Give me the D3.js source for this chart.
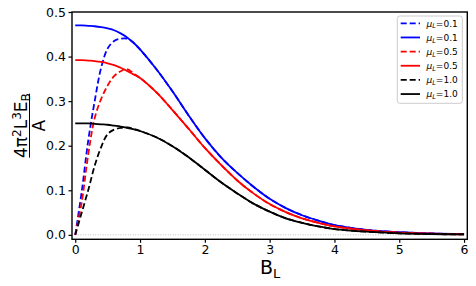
<!DOCTYPE html>
<html>
<head>
<meta charset="utf-8">
<script src="https://cdn.jsdelivr.net/npm/d3@7"></script>
<style>
  body { margin: 0; background: #fff; }
  svg { display: block; font-family: "DejaVu Sans", sans-serif; }
</style>
</head>
<body>
<div id="chart"></div>
<script>
// B_L sample points
var bl = [0, 0.1, 0.2, 0.3, 0.4, 0.5, 0.6, 0.7, 0.8, 0.9, 1.0, 1.25, 1.5, 1.75, 2.0, 2.25, 2.5, 2.75, 3.0, 3.25, 3.5, 3.75, 4.0, 4.5, 5.0, 5.5, 6.0]

var blueSolid  = [0.470, 0.470, 0.469, 0.468, 0.466, 0.463, 0.459, 0.452, 0.443, 0.431, 0.416, 0.372, 0.322, 0.268, 0.217, 0.174, 0.139, 0.108, 0.081, 0.060, 0.044, 0.032, 0.022, 0.011, 0.006, 0.003, 0.0015]
var blueDashed = [0.000, 0.097, 0.211, 0.300, 0.375, 0.418, 0.435, 0.440, 0.440, 0.431, 0.416, 0.372, 0.322, 0.268, 0.217, 0.174, 0.139, 0.108, 0.081, 0.060, 0.044, 0.032, 0.022, 0.011, 0.006, 0.003, 0.0015]
var redSolid   = [0.392, 0.392, 0.391, 0.390, 0.388, 0.385, 0.381, 0.375, 0.368, 0.360, 0.352, 0.320, 0.280, 0.238, 0.195, 0.157, 0.122, 0.093, 0.069, 0.051, 0.037, 0.027, 0.019, 0.010, 0.005, 0.0025, 0.0012]
var redDashed  = [0.000, 0.073, 0.180, 0.262, 0.305, 0.335, 0.356, 0.367, 0.372, 0.362, 0.352, 0.320, 0.280, 0.238, 0.195, 0.157, 0.122, 0.093, 0.069, 0.051, 0.037, 0.027, 0.019, 0.010, 0.005, 0.0025, 0.0012]
var blackSolid = [0.250, 0.250, 0.250, 0.249, 0.248, 0.247, 0.245, 0.243, 0.240, 0.237, 0.233, 0.219, 0.199, 0.174, 0.146, 0.118, 0.093, 0.070, 0.052, 0.037, 0.027, 0.019, 0.013, 0.007, 0.0035, 0.0018, 0.0009]
var blackDashed= [0.000, 0.050, 0.100, 0.155, 0.197, 0.226, 0.236, 0.240, 0.241, 0.238, 0.233, 0.219, 0.199, 0.174, 0.146, 0.118, 0.093, 0.070, 0.052, 0.037, 0.027, 0.019, 0.013, 0.007, 0.0035, 0.0018, 0.0009]

var xTicks = [0, 1, 2, 3, 4, 5, 6]
var yTicks = [0.0, 0.1, 0.2, 0.3, 0.4, 0.5]

var seriesNames = ["0.1", "0.1", "0.5", "0.5", "1.0", "1.0"]
var seriesColors = ["blue", "blue", "red", "red", "black", "black"]
var seriesDashed = [true, false, true, false, true, false]
var seriesValues = [blueDashed, blueSolid, redDashed, redSolid, blackDashed, blackSolid]

var W = 476, H = 286
var margin = {top: 12, right: 8.7, bottom: 46.7, left: 72}

var svg = d3.select("#chart").append("svg")
  .attr("width", W)
  .attr("height", H)

var x = d3.scaleLinear().domain([-0.05, 6.05]).range([margin.left, W - margin.right])
var y = d3.scaleLinear().domain([-0.01, 0.5]).range([H - margin.bottom, margin.top])

// dotted zero line
svg.append("line")
  .attr("x1", x(0)).attr("x2", x(6))
  .attr("y1", y(0)).attr("y2", y(0))
  .attr("stroke", "#c0c0c0")
  .attr("stroke-width", 1)
  .attr("stroke-dasharray", "1,1.5")

var line = d3.line()
  .x(function(d) { return x(d[0]) })
  .y(function(d) { return y(d[1]) })
  .curve(d3.curveCatmullRom.alpha(0.5))

seriesValues.forEach(function(vals, i) {
  svg.append("path")
    .datum(bl.map(function(b, j) { return [b, vals[j]] }))
    .attr("fill", "none")
    .attr("stroke", seriesColors[i])
    .attr("stroke-width", 1.8)
    .attr("stroke-dasharray", seriesDashed[i] ? "6,3" : null)
    .attr("d", line)
})

// axes
var gx = svg.append("g")
  .attr("transform", "translate(0," + (H - margin.bottom) + ")")
  .call(d3.axisBottom(x).tickValues(xTicks).tickFormat(d3.format("d")).tickSize(3.5).tickPadding(2.5))
var gy = svg.append("g")
  .attr("transform", "translate(" + margin.left + ",0)")
  .call(d3.axisLeft(y).tickValues(yTicks).tickFormat(d3.format(".1f")).tickSize(3.5).tickPadding(2.5))

;[gx, gy].forEach(function(g) {
  g.select(".domain").remove()
  g.selectAll(".tick line").attr("stroke", "#000").attr("stroke-width", 1.2)
  g.selectAll(".tick text")
    .attr("fill", "#000")
    .style("font-size", "12.5px")
    .style("font-family", "DejaVu Sans")
})

// frame
svg.append("rect")
  .attr("x", margin.left).attr("y", margin.top)
  .attr("width", W - margin.left - margin.right)
  .attr("height", H - margin.top - margin.bottom)
  .attr("fill", "none")
  .attr("stroke", "#000")
  .attr("stroke-width", 1.4)

// x label
var xl = svg.append("text")
  .attr("x", x(3) + 0.5)
  .attr("y", 274)
  .attr("text-anchor", "middle")
  .style("font-size", "19px")
  .text("B")
xl.append("tspan").attr("dy", 4).style("font-size", "13px").text("L")

// y label (fraction)
var yl = svg.append("g")
  .attr("transform", "translate(29.5," + ((margin.top + H - margin.bottom) / 2) + ") rotate(-90)")

var num = yl.append("text")
  .attr("x", 0).attr("y", -3)
  .attr("text-anchor", "middle")
  .style("font-size", "17px")
num.append("tspan").text("4π")
num.append("tspan").attr("dy", -6).style("font-size", "12px").text("2")
num.append("tspan").attr("dy", 6).text("L")
num.append("tspan").attr("dy", -6).style("font-size", "12px").text("3")
num.append("tspan").attr("dy", 6).text("E")
num.append("tspan").attr("dy", 3).style("font-size", "12px").text("B")

yl.append("line")
  .attr("x1", -32).attr("x2", 32)
  .attr("y1", 0).attr("y2", 0)
  .attr("stroke", "#000")
  .attr("stroke-width", 1)

yl.append("text")
  .attr("x", 0).attr("y", 15)
  .attr("text-anchor", "middle")
  .style("font-size", "17px")
  .text("A")

// legend
var lg = svg.append("g")
lg.append("rect")
  .attr("x", 397.3).attr("y", 16)
  .attr("width", 65).attr("height", 87.3)
  .attr("rx", 2.5)
  .attr("fill", "#fff")
  .attr("fill-opacity", 0.8)
  .attr("stroke", "#cccccc")
  .attr("stroke-width", 1)

seriesNames.forEach(function(name, i) {
  var yy = 23.3 + i * 14.15
  lg.append("line")
    .attr("x1", 400.7).attr("x2", 420)
    .attr("y1", yy).attr("y2", yy)
    .attr("stroke", seriesColors[i])
    .attr("stroke-width", 1.8)
    .attr("stroke-dasharray", seriesDashed[i] ? "6,3" : null)
  var t = lg.append("text")
    .attr("x", 426.5).attr("y", yy + 3.3)
    .style("font-size", "9px")
  t.append("tspan").style("font-style", "italic").text("μ")
  t.append("tspan").attr("dy", 1.8).style("font-style", "italic").style("font-size", "6.5px").text("L")
  t.append("tspan").attr("dy", -1.8).text("=" + name)
})
</script>
</body>
</html>
